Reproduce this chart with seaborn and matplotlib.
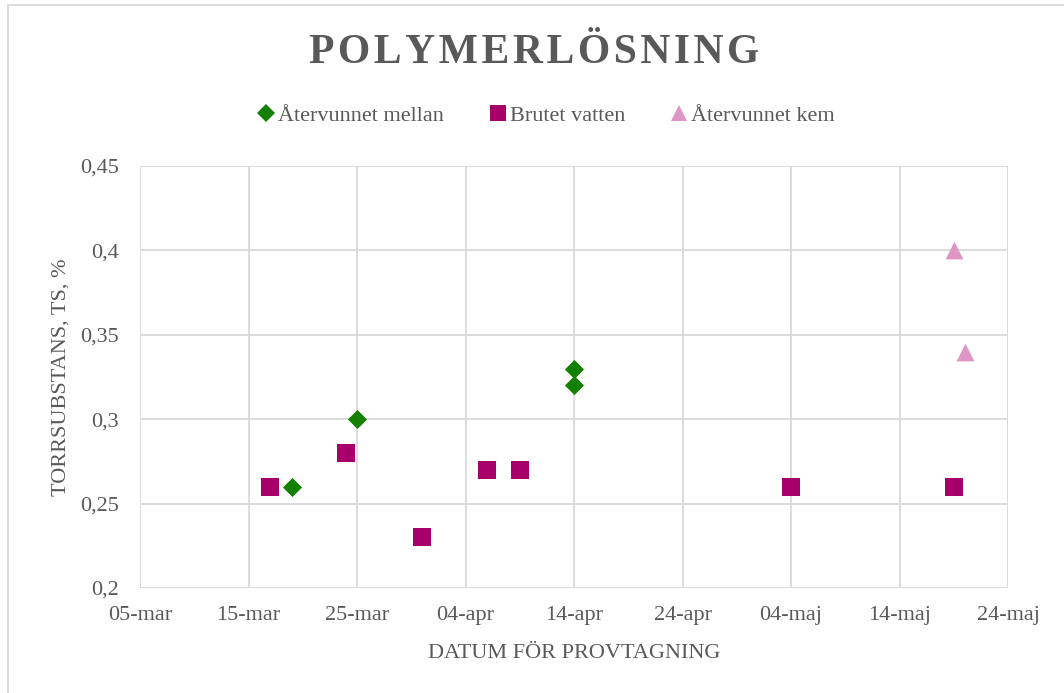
import matplotlib
matplotlib.use("Agg")
import matplotlib.pyplot as plt
from matplotlib.lines import Line2D
import pandas as pd
import seaborn as sns

# Sample series (date, dry-solids content in %)
mellan_dates = ["2023-03-19", "2023-03-25", "2023-04-14", "2023-04-14"]
mellan_ts = [0.26, 0.30, 0.33, 0.32]

brutet_dates = ["2023-03-17", "2023-03-24", "2023-03-31", "2023-04-06",
                "2023-04-09", "2023-05-04", "2023-05-19"]
brutet_ts = [0.26, 0.28, 0.23, 0.27, 0.27, 0.26, 0.26]

kem_dates = ["2023-05-19", "2023-05-20"]
kem_ts = [0.40, 0.34]

series_names = ["Återvunnet mellan", "Brutet vatten", "Återvunnet kem"]
tick_dates = ["2023-03-05", "2023-03-15", "2023-03-25", "2023-04-04", "2023-04-14",
              "2023-04-24", "2023-05-04", "2023-05-14", "2023-05-24"]
y_ticks = [0.2, 0.25, 0.3, 0.35, 0.4, 0.45]
sv_months = ["jan", "feb", "mar", "apr", "maj", "jun",
             "jul", "aug", "sep", "okt", "nov", "dec"]

colors = {"Återvunnet mellan": "#138000", "Brutet vatten": "#A8006A",
          "Återvunnet kem": "#DE97C5"}
markers = {"Återvunnet mellan": "D", "Brutet vatten": "s", "Återvunnet kem": "^"}
sizes = {"Återvunnet mellan": 95, "Brutet vatten": 170, "Återvunnet kem": 165}

df = pd.concat([
    pd.DataFrame({"datum": pd.to_datetime(mellan_dates), "ts": mellan_ts, "serie": series_names[0]}),
    pd.DataFrame({"datum": pd.to_datetime(brutet_dates), "ts": brutet_ts, "serie": series_names[1]}),
    pd.DataFrame({"datum": pd.to_datetime(kem_dates), "ts": kem_ts, "serie": series_names[2]}),
], ignore_index=True)

sns.set_style("whitegrid")
plt.rcParams["font.family"] = ["Liberation Serif", "DejaVu Serif"]
text_col = "#595959"
grid_col = "#D9D9D9"

fig = plt.figure(figsize=(10.64, 6.93), dpi=100)
ax = fig.add_axes([140 / 1064, 1 - 588 / 693, (1008 - 140) / 1064, (588 - 166) / 693])

for name in series_names:
    sub = df[df["serie"] == name]
    sns.scatterplot(data=sub, x="datum", y="ts", ax=ax, color=colors[name],
                    marker=markers[name], s=sizes[name], linewidth=0, zorder=3,
                    legend=False)

ticks = pd.to_datetime(tick_dates)
ax.set_xlim(ticks[0], ticks[-1])
ax.set_xticks(ticks)
ax.set_xticklabels([f"{d.day:02d}-{sv_months[d.month - 1]}" for d in ticks])
ax.set_ylim(y_ticks[0], y_ticks[-1])
ax.set_yticks(y_ticks)
ax.set_yticklabels([("%g" % v).replace(".", ",") for v in y_ticks])

ax.grid(True, color=grid_col, linewidth=1.3)
for sp in ax.spines.values():
    sp.set_visible(False)
ax.tick_params(axis="both", length=0, labelsize=16, labelcolor=text_col)
ax.tick_params(axis="x", pad=13)
ax.tick_params(axis="y", pad=15)

ax.set_xlabel("DATUM FÖR PROVTAGNING", fontsize=16, color=text_col, labelpad=14)
ax.set_ylabel("TORRSUBSTANS, TS, %", fontsize=16, color=text_col, labelpad=7)

fig.text(0.5 + 2 / 1064, 1 - 53 / 693, "\u200a".join("POLYMERLÖSNING"),
         ha="center", va="center", fontsize=30, fontweight="bold", color=text_col)

handles = [Line2D([], [], linestyle="none", marker=markers[n], color=colors[n],
                  markersize=(9 if n == series_names[0] else 11.5), markeredgewidth=0)
           for n in series_names]
fig.legend(handles, series_names, loc="center", bbox_to_anchor=(0.512, 1 - 116 / 693),
           ncol=3, frameon=False, fontsize=16, labelcolor=text_col,
           handletextpad=0.05, columnspacing=1.9, handlelength=1.0)

# light frame around the chart area
fig.add_artist(Line2D([8 / 1064, 1], [1 - 5 / 693, 1 - 5 / 693], transform=fig.transFigure,
                      color=grid_col, linewidth=1.3))
fig.add_artist(Line2D([8 / 1064, 8 / 1064], [0, 1 - 5 / 693], transform=fig.transFigure,
                      color=grid_col, linewidth=1.3))

fig.savefig("out.png", dpi=100)
